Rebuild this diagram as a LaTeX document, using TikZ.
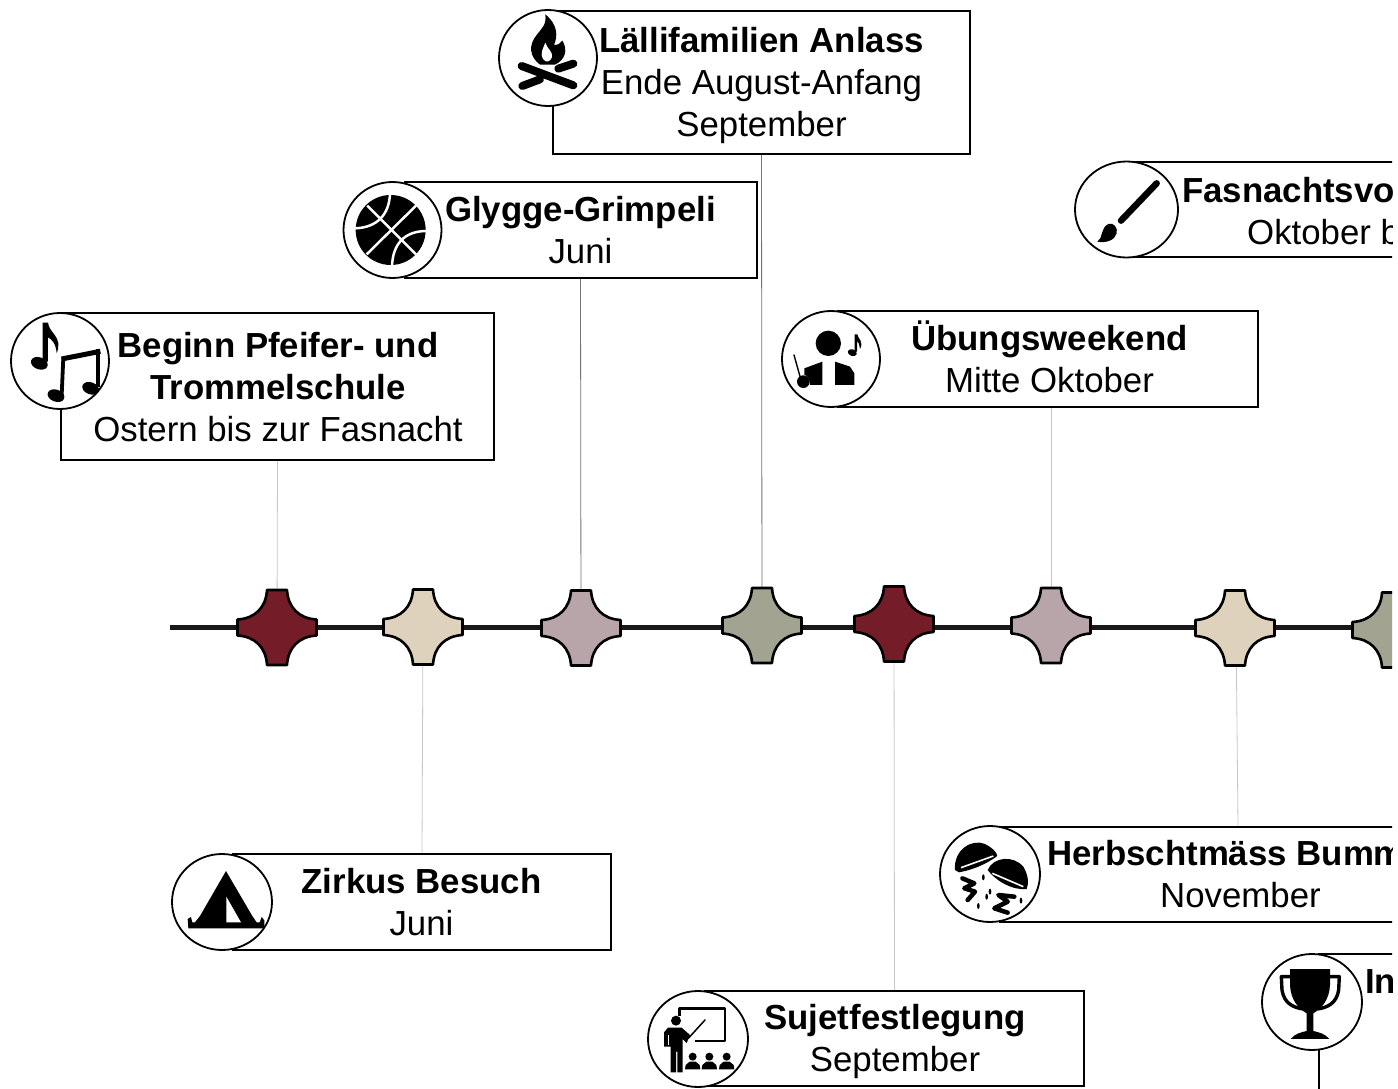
\documentclass[tikz,border=0pt]{standalone}
\usepackage{fontspec}
\usetikzlibrary{shapes.geometric}
\setmainfont{Liberation Sans}
\definecolor{cred}{HTML}{741C28}
\definecolor{cbeige}{HTML}{DED2BC}
\definecolor{cmauve}{HTML}{B8A5A9}
\definecolor{colive}{HTML}{A3A392}
\newcommand{\tstar}[4]{%
  \begin{scope}[shift={(#2,#3)}]
    \draw[starshape,fill=#4] (-10,-37.5)--(10,-37.5)
      .. controls (11,-20) and (22,-9) .. (39.5,-8) -- (39.5,8)
      .. controls (22,9) and (11,20) .. (10,37.5) -- (-10,37.5)
      .. controls (-11,20) and (-22,9) .. (-39.5,8) -- (-39.5,-8)
      .. controls (-22,-9) and (-11,-20) .. (-10,-37.5) -- cycle;
    \node[coordinate] (#1) at (0,0) {};
  \end{scope}}
\tikzset{
  evbox/.style={draw=black,line width=2pt,fill=white,inner sep=0pt},
  evtext/.style={inner sep=0pt,align=center,font=\fontsize{34.8}{42}\selectfont},
  cliptext/.style={inner sep=0pt,anchor=west,font=\fontsize{34.8}{42}\selectfont},
  iconring/.style={ellipse,draw=black,line width=1.8pt,fill=white,inner sep=0pt,minimum height=96pt,minimum width=98pt},
  starshape/.style={draw=black,line width=2.6pt,line join=round},
  stem/.style={draw=black!55,line width=0.8pt},
  stemlight/.style={draw=black!22,line width=0.8pt},
  spine/.style={draw=black!90,line width=5pt},
  ink/.style={fill=black,draw=none},
  inkline/.style={draw=black,line cap=round,line join=round},
}
\begin{document}
\begin{tikzpicture}[x=1pt,y=-1pt]
\path[fill=white,use as bounding box] (0,0) rectangle (1398,1089);
\begin{scope}
\clip (0,0) rectangle (1392,1089);
% anchors of the stars
\node[coordinate] (p1) at (277,627.5) {};
\node[coordinate] (p2) at (423,627) {};
\node[coordinate] (p3) at (581,628) {};
\node[coordinate] (p4) at (762,625.5) {};
\node[coordinate] (p5) at (894,624) {};
\node[coordinate] (p6) at (1051,625.5) {};
\node[coordinate] (p7) at (1236,628) {};
\node[coordinate] (lineend) at (1392,627) {};
\node[coordinate] (linestart) at (170,627) {};
% boxes
\node[evbox,minimum width=417pt,minimum height=143pt] (b3) at (761.5,82.5) {};
\node[evbox,minimum width=352pt,minimum height=96pt] (b2) at (580.5,230) {};
\node[evbox,minimum width=433pt,minimum height=147pt] (b1) at (277.5,386.5) {};
\node[evbox,minimum width=420pt,minimum height=96pt] (b4) at (1048,359) {};
\node[evbox,minimum width=378pt,minimum height=96pt] (b5) at (422,902) {};
\node[evbox,minimum width=379pt,minimum height=95pt] (b6) at (894.5,1038.5) {};
\node[evbox,minimum width=480pt,minimum height=95pt] (b7) at (1240,874) {};
\node[evbox,minimum width=440pt,minimum height=95pt] (b8) at (1355,209.5) {};
\node[evbox,minimum width=300pt,minimum height=200pt] (b9) at (1469,1054) {};
% box texts
\node[evtext] (t3) at (761.5,85.5) {\textbf{Lällifamilien Anlass}\\Ende August-Anfang\\September};
\node[evtext] (t2) at (580.5,230) {\textbf{Glygge-Grimpeli}\\Juni};
\node[evtext] (t1) at (278,387.5) {\textbf{Beginn Pfeifer- und}\\\textbf{Trommelschule}\\Ostern bis zur Fasnacht};
\node[evtext] (t4) at (1049.5,357) {\textbf{Übungsweekend}\\Mitte Oktober};
\node[evtext] (t5) at (421.5,902) {\textbf{Zirkus Besuch}\\Juni};
\node[evtext] (t6) at (895,1041.5) {\textbf{Sujetfestlegung}\\September};
\node[cliptext] (t7a) at (1047,853) {\textbf{Herbschtmäss Bumm}};
\node[cliptext] (t7b) at (1160,895) {November};
\node[cliptext] (t8a) at (1182,190) {\textbf{Fasnachtsvo}};
\node[cliptext] (t8b) at (1247,232) {Oktober b};
\node[cliptext] (t9a) at (1365,982) {\textbf{In}};
% connectors
\draw[stemlight] (b1.south) -- (p1);
\draw[stemlight] (b5.north) -- (p2);
\draw[stem] (b2.south) -- (p3);
\draw[stem] (b3.south) -- (p4);
\draw[stemlight] (b6.north) -- (p5);
\draw[stemlight] (b4.south -| p6) -- (p6);
\draw[stemlight] (b7.north -| 1238,0) -- (p7);
\draw[spine] (linestart) -- (lineend);
% stars
\tstar{s1}{277}{627.5}{cred}
\tstar{s2}{423}{627}{cbeige}
\tstar{s3}{581}{628}{cmauve}
\tstar{s4}{762}{625.5}{colive}
\tstar{s5}{894}{624}{cred}
\tstar{s6}{1051}{625.5}{cmauve}
\tstar{s7}{1235}{628}{cbeige}
\tstar{s8}{1392}{630}{colive}
% rings
\node[iconring] (c1) at (60,361) {};
\node[iconring] (c2) at (392.5,230) {};
\node[iconring] (c3) at (548,58) {};
\node[iconring] (c4) at (831,359) {};
\node[iconring,minimum width=100pt] (c5) at (222,902) {};
\node[iconring,minimum width=100pt] (c6) at (698,1039) {};
\node[iconring,minimum width=100pt] (c7) at (990,874) {};
\node[iconring,minimum width=103pt] (c8) at (1126.5,209.5) {};
\node[iconring,minimum width=100pt] (c9) at (1312,1002) {};
% music notes
\begin{scope}[shift={(0,300)},scale=0.3333]
  \fill[ink,rotate around={-20:(118,190)}] (118,190) ellipse (26 and 18);
  \fill[ink] (128,185) -- (128,68) -- (144,68) .. controls (147,100) and (190,110) .. (170,160)
     .. controls (168,130) and (155,118) .. (144,112) -- (144,185) -- cycle;
  \fill[ink,rotate around={-20:(168,287)}] (168,287) ellipse (26 and 18);
  \fill[ink,rotate around={-20:(272,265)}] (272,265) ellipse (26 and 18);
  \draw[inkline,line cap=butt,line width=3.8pt] (185,287) -- (190,172);
  \draw[inkline,line cap=butt,line width=3.8pt] (295,262) -- (295,146);
  \draw[inkline,line cap=butt,line width=5pt] (185,177) -- (301,154);
\end{scope}
% basketball
\begin{scope}[shift={(340,175)},scale=0.3333]
  \fill[ink] (152,165) circle (105);
  \draw[white,line width=2.5pt] (80,238) -- (228,92);
  \draw[white,line width=2.5pt] (82,92) -- (228,238);
  \draw[white,line width=2.5pt] (150,55) .. controls (148,120) and (110,158) .. (45,160);
  \draw[white,line width=2.5pt] (260,168) .. controls (195,168) and (158,205) .. (156,275);
\end{scope}
% camp fire
\begin{scope}[shift={(490,0)},scale=0.3333]
  \fill[ink] (166,43) .. controls (205,75) and (203,110) .. (192,135)
     .. controls (205,135) and (212,130) .. (217,122)
     .. controls (235,150) and (225,180) .. (195,194)
     -- (150,194) .. controls (118,170) and (115,135) .. (140,105)
     .. controls (155,85) and (170,75) .. (166,43) -- cycle;
  \fill[white] (166,128) .. controls (170,145) and (190,155) .. (186,172) .. controls (180,185) and (170,190) .. (160,178)
     .. controls (148,160) and (160,145) .. (166,128) -- cycle;
  \draw[inkline,line width=8pt] (205,206) -- (250,191);
  \draw[inkline,line width=8pt] (97,258) -- (150,238);
  \draw[inkline,line width=8pt] (95,198) -- (250,256);
\end{scope}
% conductor
\begin{scope}[shift={(775,305)},scale=0.3333]
  \fill[ink] (160,115) circle (38);
  \fill[ink] (88,190) -- (142,170) -- (142,240) -- (105,240) .. controls (105,220) and (95,210) .. (88,210) -- cycle;
  \fill[ink] (180,170) -- (225,185) -- (238,205) -- (238,240) -- (180,240) -- cycle;
  \draw[inkline,line width=1.4pt] (57,150) -- (78,225);
  \fill[ink] (85,230) circle (19);
  \fill[ink,rotate around={-20:(232,143)}] (232,143) ellipse (14 and 10);
  \fill[ink] (239,140) -- (239,88) -- (247,88) .. controls (248,100) and (268,110) .. (255,132) .. controls (252,115) and (250,110) .. (246,108) -- (246,140) -- cycle;
\end{scope}
% tent
\begin{scope}[shift={(165,845)},scale=0.3333]
  \fill[ink] (183,78) -- (262,213) -- (275,232) -- (284,232) -- (290,216) -- (298,226) -- (298,250) -- (70,250) -- (68,222) -- (78,216) -- (82,232) -- (90,232) -- (105,213) -- cycle;
  \fill[white] (184,155) -- (228,232) -- (184,232) -- cycle;
\end{scope}
% teacher
\begin{scope}[shift={(640,985)},scale=0.3333]
  \draw[inkline,line cap=butt,line width=2.4pt] (118,92) -- (118,70) -- (255,70) -- (255,168) -- (165,168);
  \fill[ink] (108,107) circle (15);
  \draw[inkline,line width=1.5pt] (145,160) -- (195,105);
  \fill[ink] (84,128) -- (125,128) -- (150,150) -- (140,174) -- (128,162)
     -- (128,262) -- (112,262) -- (112,200) -- (108,200) -- (108,262) -- (92,262) -- (92,185) -- (72,185) -- (72,142) -- cycle;
  \fill[white] (83,150) -- (88,150) -- (88,180) -- (83,180) -- cycle;
  \foreach \k in {158,208,260}{
    \fill[ink] (\k,215) circle (12);
    \fill[ink] (\k-23,253) -- (\k-21,240) -- (\k-9,230) -- (\k+9,230) -- (\k+21,240) -- (\k+23,253) -- cycle;
  }
\end{scope}
% chestnuts
\begin{scope}[shift={(935,820)},scale=0.3333]
  \fill[ink] (60,150) .. controls (55,90) and (110,55) .. (150,72) .. controls (170,82) and (185,95) .. (187,108)
     .. controls (150,135) and (110,150) .. (72,157) -- cycle;
  \draw[white,line width=1.6pt] (78,143) -- (175,108);
  \fill[ink] (158,150) .. controls (175,110) and (235,105) .. (265,140) .. controls (280,165) and (282,190) .. (275,207)
     .. controls (230,212) and (180,180) .. (158,150) -- cycle;
  \draw[white,line width=1.6pt] (172,160) -- (265,200);
  \draw[inkline,line width=4.5pt] (82,175) -- (118,190) -- (88,205) -- (120,215) -- (98,240);
  \draw[inkline,line width=4.5pt] (238,230) -- (190,225) -- (218,245) -- (178,265) -- (218,278);
  \foreach \a/\b in {145/172,165/215,130/258,155/230,258/242}{
    \fill[ink] (\a,\b) ellipse (4 and 9);
  }
\end{scope}
% paint brush
\begin{scope}[shift={(1065,150)},scale=0.3333]
  \draw[inkline,line width=6.5pt] (275,100) -- (168,212);
  \fill[ink] (97,275) .. controls (115,265) and (105,235) .. (130,222) .. controls (145,215) and (160,235) .. (155,250)
     .. controls (150,270) and (125,280) .. (97,275) -- cycle;
\end{scope}
% trophy
\begin{scope}[shift={(1250,945)},scale=0.3333]
  \fill[ink] (120,72) -- (240,72) -- (240,120) .. controls (238,165) and (215,190) .. (190,205) -- (190,258)
     .. controls (205,262) and (225,265) .. (238,282) -- (122,282) .. controls (135,265) and (155,262) .. (170,258)
     -- (170,205) .. controls (145,190) and (122,165) .. (120,120) -- cycle;
  \draw[inkline,line cap=butt,line width=3.4pt] (122,95) -- (94,95) -- (96,135) .. controls (102,175) and (130,188) .. (160,192);
  \draw[inkline,line cap=butt,line width=3.4pt] (238,95) -- (268,95) -- (266,135) .. controls (260,175) and (232,188) .. (202,192);
\end{scope}
\end{scope}
\end{tikzpicture}
\end{document}
